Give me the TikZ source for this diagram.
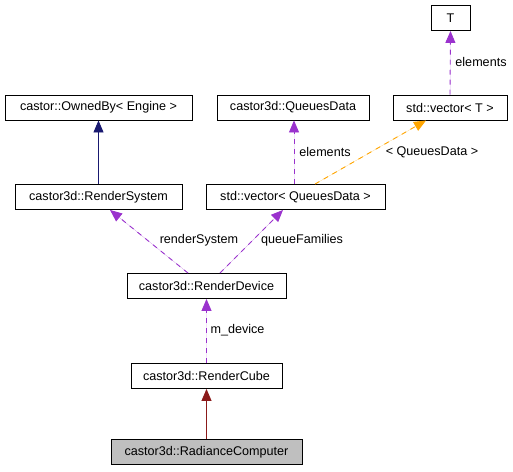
\documentclass[tikz,border=0pt]{standalone}
\usepackage{fontspec}
\setmainfont{Liberation Sans}
\usetikzlibrary{arrows.meta}
\definecolor{membcol}{HTML}{9A32CD}
\definecolor{tmplcol}{HTML}{FFA500}
\definecolor{basecol}{HTML}{191970}
\definecolor{privcol}{HTML}{8B1A1A}
\definecolor{focuscol}{HTML}{BFBFBF}
\tikzset{
  cls/.style={draw=black,line width=0.9pt,fill=white,inner sep=0pt,minimum height=25pt,font=\fontsize{12.6}{15}\selectfont},
  memb/.style={draw=membcol,line width=0.9pt,dash pattern=on 5pt off 5pt,-{Triangle[length=12pt,width=10pt]}},
  tmpl/.style={memb,draw=tmplcol},
  base/.style={draw=basecol,line width=0.9pt,-{Triangle[length=12pt,width=10pt]}},
  lbl/.style={font=\fontsize{12.6}{15}\selectfont,inner sep=0pt}
}
\begin{document}
\begin{tikzpicture}[x=1pt,y=-1pt]
\useasboundingbox (0,0) rectangle (513,471);
\node[cls,minimum width=39pt] (t) at (450.5,18) {T};
\node[cls,minimum width=114pt] (vect) at (450,107.5) {std::vector< T >};
\node[cls,minimum width=187pt] (owned) at (98.5,107.5) {castor::OwnedBy< Engine >};
\node[cls,minimum width=152pt] (qdata) at (293,107.5) {castor3d::QueuesData};
\node[cls,minimum width=167pt] (rsys) at (98.5,197) {castor3d::RenderSystem};
\node[cls,minimum width=179pt] (vecq) at (295.5,197) {std::vector< QueuesData >};
\node[cls,minimum width=159pt] (dev) at (206.5,286) {castor3d::RenderDevice};
\node[cls,minimum width=151pt] (cube) at (206.5,376) {castor3d::RenderCube};
\node[cls,minimum width=191pt,fill=focuscol] (rad) at (206.5,452) {castor3d::RadianceComputer};
\draw[memb,privcol,draw=privcol,solid] (rad.north) -- (cube.south);
\draw[memb,fill=membcol] (cube.north) -- (dev.south);
\draw[memb,fill=membcol] ([xshift=-18.5pt]dev.north) -- ([xshift=11.5pt]rsys.south);
\draw[memb,fill=membcol] ([xshift=13.5pt]dev.north) -- ([xshift=-12.5pt]vecq.south);
\draw[base,fill=basecol] (rsys.north) -- (owned.south);
\draw[memb,fill=membcol] ([xshift=-1.5pt]vecq.north) -- ([xshift=1pt]qdata.south);
\draw[tmpl,fill=tmplcol] ([xshift=19.5pt]vecq.north) -- ([xshift=-24pt]vect.south);
\draw[memb,fill=membcol] (vect.north) -- (t.south);
\node[lbl] (lelem) at (325,152) {elements};
\node[lbl] (ltmpl) at (432,152) {< QueuesData >};
\node[lbl] (lelemt) at (481,62) {elements};
\node[lbl] (lrsys) at (199,240) {renderSystem};
\node[lbl] (lqfam) at (302,240) {queueFamilies};
\node[lbl] (ldev) at (237.5,330) {m\_device};
\end{tikzpicture}
\end{document}
